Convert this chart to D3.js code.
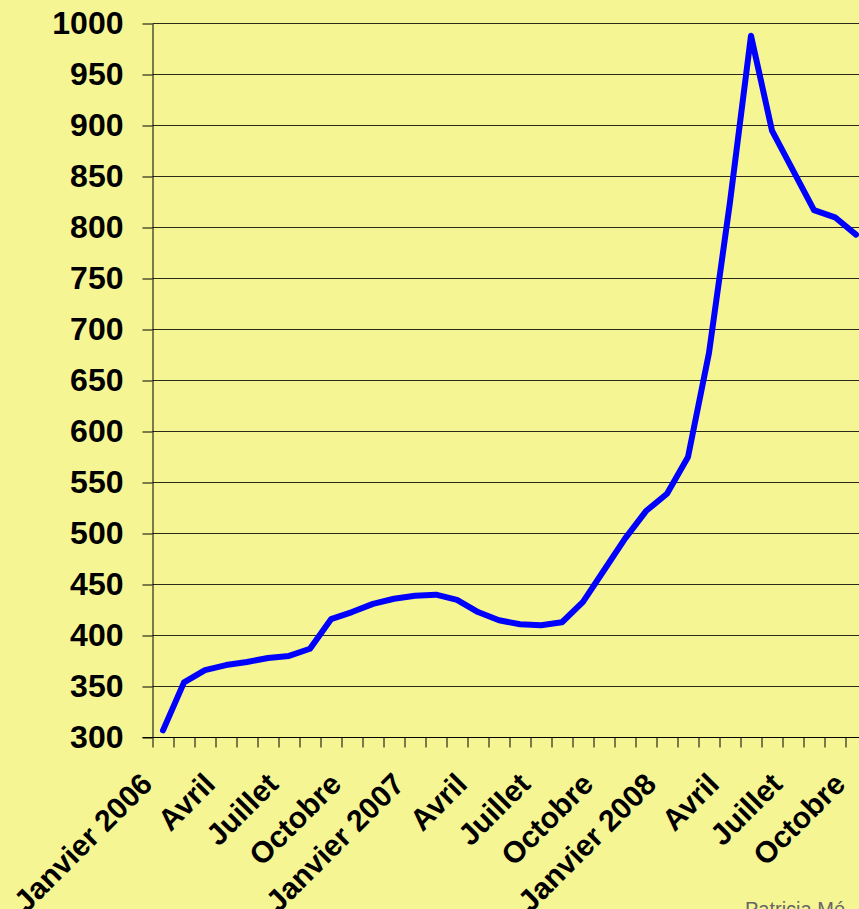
<!DOCTYPE html>
<html>
<head>
<meta charset="utf-8">
<script src="https://cdn.jsdelivr.net/npm/d3@7"></script>
<style>
  html, body { margin: 0; padding: 0; background: #F6F593; overflow: hidden; }
  svg { display: block; font-family: "Liberation Sans", Arial, sans-serif; }
</style>
</head>
<body>
<div id="chart"></div>
<script>
// months Jan 2006 .. Dec 2008 (the right end is cut by the frame)
const months = ['jan06','fev06','mar06','avr06','mai06','jun06','jul06','aou06','sep06','oct06','nov06','dec06',
                'jan07','fev07','mar07','avr07','mai07','jun07','jul07','aou07','sep07','oct07','nov07','dec07',
                'jan08','fev08','mar08','avr08','mai08','jun08','jul08','aou08','sep08','oct08','nov08','dec08'];
const values = [307, 354, 366, 371, 374, 378, 380, 387, 416, 423, 431, 436,
                439, 440, 435, 423, 415, 411, 410, 413, 433, 464, 495, 522,
                539, 575, 677, 825, 988, 895, 856, 817, 810, 793];
const tickLabels = ['Janvier 2006','Avril','Juillet','Octobre','Janvier 2007','Avril','Juillet','Octobre',
                    'Janvier 2008','Avril','Juillet','Octobre'];
const labelMonths = ['jan06','avr06','jul06','oct06','jan07','avr07','jul07','oct07','jan08','avr08','jul08','oct08'];
const yTicks = [300, 350, 400, 450, 500, 550, 600, 650, 700, 750, 800, 850, 900, 950, 1000];

const W = 859, H = 909, L = 152.5, STEP = 21;
const svg = d3.select('#chart').append('svg').attr('width', W).attr('height', H);

const x = d3.scaleBand().domain(months).range([L, L + months.length * STEP]);
const xb = d3.scaleLinear().domain([0, months.length]).range([L, L + months.length * STEP]);
const y = d3.scaleLinear().domain([300, 1000]).range([737.5, 23.5]);

// grid
svg.append('g').selectAll('line').data(yTicks.slice(1)).join('line')
  .attr('x1', L).attr('x2', W).attr('y1', d => y(d)).attr('y2', d => y(d))
  .attr('stroke', '#2a2a1a').attr('stroke-width', 1);

// y axis
const ya = svg.append('g').attr('transform', `translate(${L},0)`)
  .call(d3.axisLeft(y).tickValues(yTicks).tickFormat(d3.format('d')).tickSize(10).tickSizeOuter(0).tickPadding(19));
ya.select('.domain').attr('stroke', '#000');
ya.selectAll('.tick line').attr('stroke', '#000');
ya.selectAll('text').attr('font-size', 32).attr('font-weight', 'bold').attr('fill', '#000')
  .attr('font-family', '"Liberation Sans", Arial, sans-serif');

// x axis (ticks between months)
const xa = svg.append('g').attr('transform', `translate(0,${y(300)})`)
  .call(d3.axisBottom(xb).tickValues(d3.range(0, months.length + 1)).tickSize(10).tickSizeOuter(0).tickFormat(''));
xa.select('.domain').attr('stroke', '#000').attr('d', `M${L - 10},0H${W + 100}`);
xa.selectAll('.tick line').attr('stroke', '#000');

svg.append('g').selectAll('text').data(labelMonths).join('text')
  .attr('transform', d => `translate(${x(d) + x.bandwidth() / 2 - 9},786) rotate(-45)`)
  .attr('text-anchor', 'end')
  .attr('font-size', 30).attr('font-weight', 'bold').attr('fill', '#000')
  .text((d, i) => tickLabels[i]);

// series
const line = d3.line().x((d, i) => x(months[i]) + x.bandwidth() / 2).y(d => y(d));
svg.append('path').attr('d', line(values))
  .attr('fill', 'none').attr('stroke', '#0000FF').attr('stroke-width', 6)
  .attr('stroke-linejoin', 'round').attr('stroke-linecap', 'round');

// credit, cut by the frame
svg.append('text').attr('x', 745).attr('y', 916).attr('font-size', 20).attr('fill', '#666')
  .text('Patricia Mé');
</script>
</body>
</html>
